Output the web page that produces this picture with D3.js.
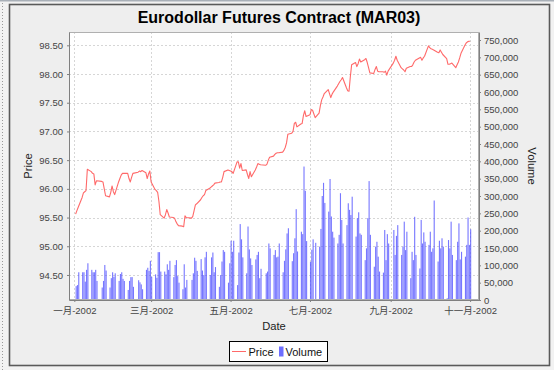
<!DOCTYPE html>
<html>
<head>
<meta charset="utf-8">
<script src="https://cdn.jsdelivr.net/npm/d3@7"></script>
<style>
  body { margin: 0; background: #f2f2f2; }
  svg { display: block; }
  text { font-family: "Liberation Sans", Arial, "Noto Sans CJK SC", sans-serif; }
</style>
</head>
<body>
<svg width="554" height="370"></svg>
<script>
// trading days: weekdays from first to last, minus exchange holidays
const firstDay = "2002-01-02", lastDay = "2002-11-01";
const holidays = ["2002-01-21", "2002-02-18", "2002-03-29", "2002-05-27", "2002-07-04", "2002-09-02"];

// closing price, one per trading day (one line per week)
const price = [
  95.56, 95.62, 95.68,
  95.85, 95.93, 95.95, 95.97, 96.34,
  96.30, 96.27, 96.26, 96.07, 96.14,
  96.13, 96.12, 96.00, 95.88,
  95.86, 95.94, 96.05, 95.95, 95.90,
  96.12, 96.18, 96.24, 96.27, 96.27,
  96.27, 96.18, 96.12, 96.20, 96.27,
  96.29, 96.31, 96.30, 96.32,
  96.28, 96.18, 96.26, 96.31, 96.12,
  95.99, 95.97, 95.94, 95.78, 95.55,
  95.49, 95.55, 95.64, 95.58, 95.51,
  95.50, 95.49, 95.43, 95.39, 95.36,
  95.35, 95.34, 95.53, 95.50,
  95.49, 95.52, 95.62, 95.72, 95.74,
  95.81, 95.85, 95.88, 95.90, 95.97,
  96.01, 96.03, 96.05, 96.07, 96.10,
  96.11, 96.12, 96.12, 96.20, 96.30,
  96.33, 96.32, 96.31, 96.30, 96.27,
  96.47, 96.47, 96.36, 96.44, 96.32,
  96.33, 96.25, 96.18, 96.30, 96.21,
  96.33, 96.38, 96.44, 96.43, 96.42,
  96.41, 96.43, 96.50, 96.55,
  96.57, 96.60, 96.62, 96.63, 96.63,
  96.64, 96.67, 96.72, 96.80, 96.95,
  96.97, 97.00, 97.14, 97.16, 97.08,
  97.13, 97.14, 97.28, 97.36, 97.26,
  97.29, 97.38, 97.37, 97.24,
  97.32, 97.45, 97.55, 97.60, 97.66,
  97.73, 97.66, 97.59, 97.65, 97.69,
  97.79, 97.83, 97.87, 97.90, 97.94,
  97.76, 97.71, 97.70, 97.95, 98.16,
  98.20, 98.13, 98.18, 98.26, 98.21,
  98.25, 98.27, 98.20, 98.11, 98.02,
  98.01, 98.08, 98.13, 98.05, 98.04,
  98.04, 98.03, 98.05, 97.98, 98.05,
  98.19, 98.24, 98.31, 98.24,
  98.11, 98.09, 98.07, 98.04, 98.10,
  98.13, 98.13, 98.16, 98.21, 98.24,
  98.28, 98.29, 98.24, 98.28, 98.31,
  98.49, 98.46, 98.44, 98.43, 98.42,
  98.38, 98.37, 98.42, 98.38, 98.34,
  98.27, 98.17, 98.17, 98.18, 98.19,
  98.11, 98.16, 98.21, 98.28, 98.36,
  98.50, 98.54, 98.56, 98.57, 98.57
];

// volume in thousands of contracts
const volume = [
  40, 43, 80,
  80, 80, 53, 87, 106,
  87, 80, 80, 87, 55,
  36, 55, 101, 85,
  36, 63, 80, 67, 77,
  55, 75, 80, 61, 55,
  29, 55, 66, 66, 38,
  57, 51, 45, 31,
  87, 93, 84, 113, 67,
  74, 64, 138, 138, 82,
  82, 74, 103, 87, 113,
  66, 101, 115, 69, 50,
  31, 103, 36, 58,
  58, 77, 122, 113, 84,
  118, 85, 72, 123, 139,
  72, 123, 137, 80, 95,
  38, 72, 111, 144, 139,
  50, 106, 171, 139, 171,
  43, 137, 219, 175, 123,
  77, 212, 146, 120, 101,
  117, 130, 139, 63, 90,
  77, 82, 163, 149,
  130, 144, 123, 125, 163,
  80, 113, 146, 192, 207,
  112, 135, 178, 262, 140,
  197, 190, 385, 315, 170,
  110, 145, 175, 165,
  154, 205, 300, 338, 280,
  255, 349, 241, 197, 180,
  163, 188, 308, 231, 163,
  216, 279, 260, 245, 298,
  183, 236, 253, 192, 188,
  115, 149, 236, 343, 188,
  96, 154, 168, 125, 82,
  79, 202, 115, 190, 163,
  202, 130, 185, 216,
  130, 154, 226, 144, 197,
  63, 139, 115, 240, 130,
  91, 231, 163, 195, 168,
  159, 197, 139, 149, 287,
  111, 171, 149, 178, 154,
  5, 173, 149, 226, 130,
  115, 168, 221, 117, 139,
  125, 159, 238, 159, 204
];

const monthNames = ["一月", "二月", "三月", "四月", "五月", "六月", "七月", "八月", "九月", "十月", "十一月", "十二月"];
const priceTicks = [94.5, 95.0, 95.5, 96.0, 96.5, 97.0, 97.5, 98.0, 98.5];
const volumeTicks = d3.range(0, 750001, 50000);

const parse = d3.utcParse("%Y-%m-%d"), fmt = d3.utcFormat("%Y-%m-%d");
const days = d3.utcDay.range(parse(firstDay), d3.utcDay.offset(parse(lastDay), 1))
  .filter(d => d.getUTCDay() % 6 !== 0 && !holidays.includes(fmt(d)));
const data = days.map((d, i) => ({date: d, price: price[i], volume: volume[i] * 1000}))
  .filter(d => d.price != null);

const svg = d3.select("svg");
const plot = {left: 69, right: 479, top: 32, bottom: 300};

const x = d3.scaleUtc()
  .domain([new Date(Date.UTC(2001, 11, 27, 22)), new Date(Date.UTC(2002, 10, 7, 20))])
  .range([plot.left, plot.right]);
const yPrice = d3.scaleLinear().domain([94.064, 98.732]).range([plot.bottom, plot.top]);
const yVol = d3.scaleLinear().domain([0, 773077]).range([plot.bottom, plot.top]);

// outer panel
svg.append("line").attr("x1", 2.5).attr("x2", 2.5).attr("y1", 0).attr("y2", 370)
  .attr("stroke", "#9a9a9a").attr("stroke-dasharray", "1,2");
svg.append("rect").attr("x", 0).attr("y", 0).attr("width", 554).attr("height", 1.5).attr("fill", "#a9b0b8");
svg.append("rect")
  .attr("x", 9.5).attr("y", 4.5).attr("width", 540).attr("height", 361)
  .attr("fill", "#eeeeee").attr("stroke", "#5a5a5a").attr("stroke-width", 1.6);

// title
svg.append("text").attr("x", 279).attr("y", 22.5).attr("text-anchor", "middle")
  .attr("font-size", 16).attr("font-weight", "bold").attr("fill", "#000")
  .text("Eurodollar Futures Contract (MAR03)");

// plot background
svg.append("rect").attr("x", plot.left).attr("y", plot.top)
  .attr("width", plot.right - plot.left).attr("height", plot.bottom - plot.top)
  .attr("fill", "#fff");

// gridlines
const monthTicks = d3.utcMonth.every(2).range(new Date(Date.UTC(2002, 0, 1)), new Date(Date.UTC(2002, 11, 1)));
const grid = svg.append("g").attr("stroke", "#d6d6d6").attr("stroke-dasharray", "2,2").attr("stroke-width", 1);
grid.selectAll(".gx").data(monthTicks).join("line")
  .attr("x1", d => Math.round(x(d)) + 0.5).attr("x2", d => Math.round(x(d)) + 0.5)
  .attr("y1", plot.top).attr("y2", plot.bottom);
grid.selectAll(".gy").data(priceTicks).join("line")
  .attr("x1", plot.left).attr("x2", plot.right)
  .attr("y1", d => Math.round(yPrice(d)) + 0.5).attr("y2", d => Math.round(yPrice(d)) + 0.5);

// volume bars
const dayW = x(new Date(Date.UTC(2002, 0, 2))) - x(new Date(Date.UTC(2002, 0, 1)));
svg.append("g").attr("fill", "#4a4aff").attr("fill-opacity", 0.75)
  .selectAll("rect").data(data).join("rect")
  .attr("x", d => x(d.date))
  .attr("width", dayW * 0.85)
  .attr("y", d => yVol(d.volume))
  .attr("height", d => yVol(0) - yVol(d.volume));

// price line
svg.append("path").datum(data)
  .attr("fill", "none").attr("stroke", "#ff4f4f").attr("stroke-opacity", 0.85)
  .attr("stroke-width", 1.1).attr("stroke-linejoin", "round")
  .attr("d", d3.line().x(d => x(d.date)).y(d => yPrice(d.price)));

// plot outline
svg.append("rect").attr("x", plot.left + 0.5).attr("y", plot.top + 0.5)
  .attr("width", plot.right - plot.left - 1).attr("height", plot.bottom - plot.top - 1)
  .attr("fill", "none").attr("stroke", "#b0b0b0");

// axes
function styleAxis(g) {
  g.select(".domain").attr("stroke", "#808080");
  g.selectAll(".tick line").attr("stroke", "#808080");
  g.selectAll(".tick text").attr("fill", "#444").attr("font-size", 9.5)
    .attr("font-family", "\"Liberation Sans\", Arial, \"Noto Sans CJK SC\", sans-serif");
}

svg.append("g").attr("transform", `translate(${plot.left},0)`)
  .call(d3.axisLeft(yPrice).tickValues(priceTicks).tickFormat(d3.format(".2f")).tickSizeInner(2).tickSizeOuter(0).tickPadding(4))
  .call(styleAxis);

svg.append("g").attr("transform", `translate(${plot.right},0)`)
  .call(d3.axisRight(yVol).tickValues(volumeTicks).tickFormat(d3.format(",")).tickSizeInner(2).tickSizeOuter(0).tickPadding(3))
  .call(styleAxis);

svg.append("g").attr("transform", `translate(0,${plot.bottom})`)
  .call(d3.axisBottom(x).tickValues(monthTicks)
    .tickFormat(d => monthNames[d.getUTCMonth()] + "-" + d.getUTCFullYear())
    .tickSizeInner(2).tickSizeOuter(0).tickPadding(5))
  .call(styleAxis);

// axis labels
svg.append("text").attr("transform", `translate(31.5,${(plot.top + plot.bottom) / 2}) rotate(-90)`)
  .attr("text-anchor", "middle").attr("font-size", 11.2).attr("fill", "#222").text("Price");
svg.append("text").attr("transform", `translate(527.5,${(plot.top + plot.bottom) / 2}) rotate(90)`)
  .attr("text-anchor", "middle").attr("font-size", 11.2).attr("fill", "#222").text("Volume");
svg.append("text").attr("x", (plot.left + plot.right) / 2).attr("y", 330)
  .attr("text-anchor", "middle").attr("font-size", 11.2).attr("fill", "#222").text("Date");

// legend
const legend = svg.append("g");
legend.append("rect").attr("x", 229.5).attr("y", 341.5).attr("width", 98).attr("height", 20)
  .attr("fill", "#fff").attr("stroke", "#000");
legend.append("line").attr("x1", 232).attr("x2", 246).attr("y1", 351.5).attr("y2", 351.5)
  .attr("stroke", "#ff4f4f").attr("stroke-opacity", 0.85);
legend.append("text").attr("x", 248.5).attr("y", 355.5).attr("font-size", 11).attr("fill", "#111").text("Price");
legend.append("rect").attr("x", 279).attr("y", 346.5).attr("width", 4.5).attr("height", 10)
  .attr("fill", "#4a4aff").attr("fill-opacity", 0.8);
legend.append("text").attr("x", 285.5).attr("y", 355.5).attr("font-size", 11).attr("fill", "#111").text("Volume");
</script>
</body>
</html>
